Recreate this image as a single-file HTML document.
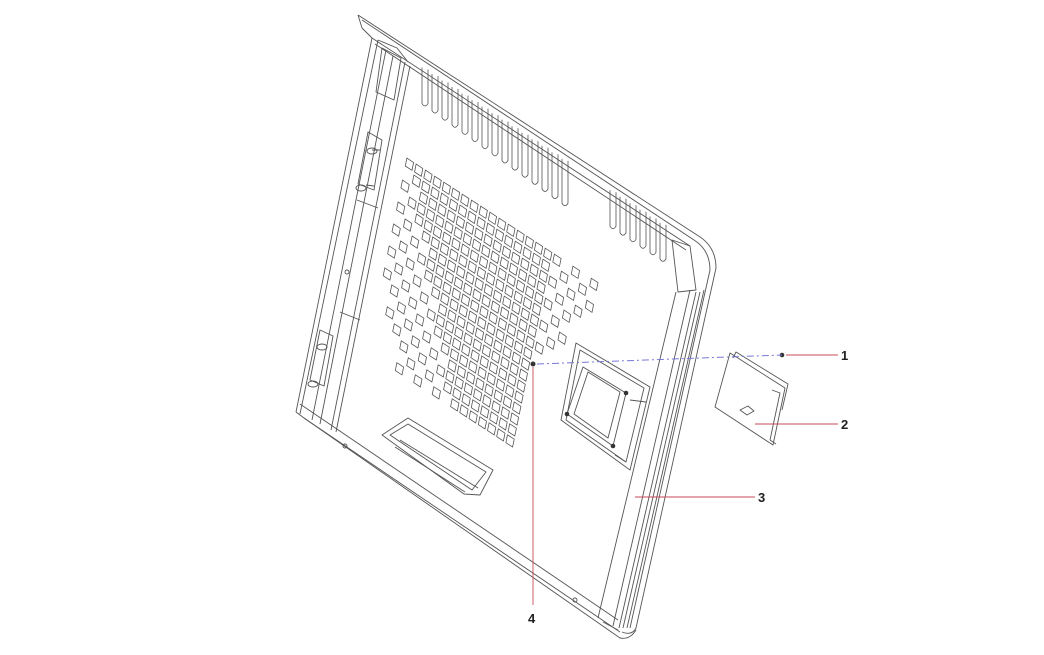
<!DOCTYPE html>
<html><head><meta charset="utf-8"><style>
html,body{margin:0;padding:0;background:#fff;}
svg{display:block;}
text{font-family:"Liberation Sans",Arial,sans-serif;font-weight:bold;font-size:13px;fill:#222;}
</style></head><body>
<svg id="s" width="1044" height="655" viewBox="0 0 1044 655" xmlns="http://www.w3.org/2000/svg">
<g fill="none" stroke="#555" stroke-width="0.9" stroke-linejoin="round">
<path d="M358,15 L697,235 Q716,246 716,268 L636,628 Q632,636 622,632"/>
<path d="M362,20 L694,240 Q710,250 710,270 L630,628"/>
<path d="M372,38 L690,246"/>
<path d="M375,44 L686,250"/>
<path d="M358,15 L362,28 L372,38 L296,412"/>
<path d="M378,40 L300,414"/>
<path d="M386,50 L312,420"/>
<path d="M393,56 L320,424"/>
<path d="M405,62 L331,430"/>
<path d="M410,66 L336,432"/>
<path d="M378,40 L397,48 L408,62"/>
<path d="M382,48 L401,58 L394,100 L376,92 Z"/>
<path d="M368,132 L382,140 L374,190 L358,184 Z"/>
<path d="M372,150 L380,150 M366,185 L374,186"/>
<ellipse cx="372" cy="151" rx="5" ry="3"/>
<ellipse cx="361" cy="188" rx="5" ry="3"/>
<path d="M320,330 L333,336 L324,386 L310,380 Z"/>
<ellipse cx="322" cy="347" rx="5" ry="3"/>
<ellipse cx="313" cy="384" rx="5" ry="3"/>
<circle cx="347" cy="272" r="2"/>
<path d="M357,200 L378,208 M340,312 L360,320"/>
<path d="M296,412 L304,418 L620,632"/>
<path d="M300,404 L618,620"/>
<path d="M304,418 L620,638 Q630,640 636,630"/>
<circle cx="345" cy="446" r="2"/><circle cx="575" cy="600" r="2"/>
<path d="M690,290 L613,626"/>
<path d="M696,292 L619,628"/>
<path d="M700,292 L623,628"/>
<path d="M704,290 L627,628"/>
<path d="M676,292 L598,618"/>
<path d="M672,240 L690,246 L696,290 L678,292 Z"/>
<path d="M603,622 L618,630"/>
<path d="M382,435 L408,418 L493,470 L480,495 L464,494 Z"/>
<path d="M390,435 L408,424 L486,472 L472,490 Z"/>
<path d="M400,440 L478,488 M395,447 L465,492"/>
<path d="M576,343 L650,387 L630,470 L561,420 Z"/>
<path d="M580,350 L644,388 L626,462 L566,420 Z"/>
<path d="M583,367 L626,393 L613,446 L567,414 Z"/>
<path d="M588,372 L620,392 L608,438 L574,414 Z"/>
<path d="M630,400 L646,402 M615,455 L626,462"/>
<path d="M730,353 L785,388 L773,445 L715,407 Z"/>
<path d="M733,358 L736,352 L788,384 L782,410 M770,440 L776,444"/>
<path d="M772,390 L780,393 L770,440"/>
<path d="M740,410 L748,406 L754,411 L747,415 Z"/>
</g>
<g id="sq" fill="none" stroke="#555" stroke-width="0.8"></g>
<g id="sl" fill="none" stroke="#555" stroke-width="0.8"></g>
<circle cx="533" cy="364" r="2.5" fill="#333"/>
<circle cx="782" cy="355" r="2.3" fill="#333"/>
<circle cx="626" cy="393" r="2.3" fill="#333"/>
<circle cx="567" cy="414" r="2.3" fill="#333"/>
<circle cx="613" cy="446" r="2.3" fill="#333"/>
<path d="M537,364 L782,355" stroke="#7777d8" stroke-width="1" stroke-dasharray="7,3,2,3" fill="none"/>
<g stroke="#c84a5a" stroke-width="0.9" fill="none">
<path d="M786,355 L838,355"/>
<path d="M755,424 L838,424"/>
<path d="M635,497 L755,497"/>
<path d="M533,367 L533,605"/>
</g>
<text x="841" y="360">1</text>
<text x="841" y="429">2</text>
<text x="758" y="502">3</text>
<text x="528" y="623">4</text>
</svg>
<script>
var NS="http://www.w3.org/2000/svg";
var ux=0.838,uy=0.546,vx=-0.198,vy=0.98,ox=372,oy=40;
function P(a,b){return [ox+a*ux+b*vx,oy+a*uy+b*vy];}
var g=document.getElementById("sq"),d="";
for(var r=0;r<18;r++){for(var c=0;c<23;c++){
 var a=62+c*11,b=86+r*11.2;
 var L=0.5+r*0.5;
 var inc=false;
 if(c>=L&&c<=15) inc=true;
 else if(c<L&&c>=L-6&&(c+r)%2==0) inc=true;
 else if(c>15&&c<=21-r*0.5&&r<9&&(c+r)%2==0) inc=true;
 if(!inc) continue;
 var p=[P(a,b),P(a+8,b),P(a+8,b+8),P(a,b+8)];
 d+="M"+p.map(function(q){return q[0].toFixed(1)+","+q[1].toFixed(1)}).join("L")+"Z";
}}
var pa=document.createElementNS(NS,"path");pa.setAttribute("d",d);g.appendChild(pa);
var s=document.getElementById("sl"),e="";
function slot(x,len){var t=17+0.653*(x-360)+8;e+="M"+(x-3)+","+t+"L"+(x-3)+","+(t+len)+"Q"+x+","+(t+len+5)+" "+(x+3)+","+(t+len)+"L"+(x+3)+","+(t+2);}
for(var i=0;i<15;i++)slot(425+i*10,36+i*0.6);
for(var i=0;i<6;i++)slot(613+i*10,36);
var pb=document.createElementNS(NS,"path");pb.setAttribute("d",e);s.appendChild(pb);
</script>
</body></html>
